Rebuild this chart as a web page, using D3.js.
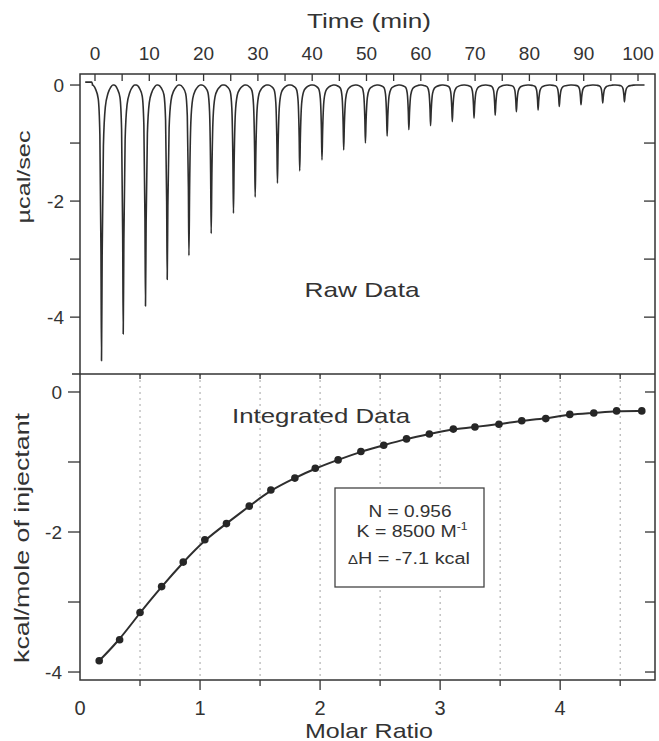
<!DOCTYPE html>
<html>
<head>
<meta charset="utf-8">
<script src="https://cdn.jsdelivr.net/npm/d3@7"></script>
<style>
  body { margin: 0; background: #fff; }
  svg { display: block; }
  text { font-family: "Liberation Sans", Arial, sans-serif; fill: #333; }
</style>
</head>
<body>
<svg id="chart"></svg>
<script>
// DATA
const injectionTimes = [1.2, 5.2, 9.3, 13.3, 17.3, 21.4, 25.5, 29.5, 33.6, 37.7, 41.8, 45.8, 49.8,
  53.8, 57.8, 61.8, 65.8, 69.8, 73.7, 77.6, 81.6, 85.5, 89.5, 93.5, 97.5]
const peakHeights = [-4.75, -4.29, -3.81, -3.35, -2.94, -2.56, -2.21, -1.93, -1.69, -1.48, -1.29, -1.12, -1.0,
  -0.88, -0.77, -0.70, -0.63, -0.57, -0.52, -0.46, -0.43, -0.37, -0.34, -0.31, -0.29]
// shape of one injection peak: [minutes from peak, fraction of peak height]
const peakProfile = [[-1.7, 0], [-1.1, 0.015], [-0.6, 0.05], [-0.3, 0.18], [-0.1, 0.6], [0, 1],
  [0.12, 0.62], [0.35, 0.22], [0.7, 0.08], [1.2, 0.03], [1.7, 0.008], [2.1, 0]]
const leadIn = [[-1.8, 0.05], [-0.6, 0.05], [-0.4, 0]]
const traceEnd = [[100.2, 0], [101.2, 0]]

const molarRatio = [0.16, 0.33, 0.50, 0.68, 0.86, 1.04, 1.22, 1.41, 1.59, 1.79, 1.96, 2.15, 2.34,
  2.53, 2.72, 2.91, 3.11, 3.29, 3.49, 3.68, 3.88, 4.08, 4.28, 4.47, 4.68]
const heatPerMole = [-3.84, -3.54, -3.15, -2.78, -2.43, -2.11, -1.88, -1.63, -1.40, -1.23, -1.09, -0.97, -0.85,
  -0.76, -0.67, -0.60, -0.53, -0.50, -0.46, -0.41, -0.38, -0.32, -0.30, -0.27, -0.27]

const timeTickLabels = [0, 10, 20, 30, 40, 50, 60, 70, 80, 90, 100]
const timeMinorTicks = [0, 5, 10, 15, 20, 25, 30, 35, 40, 45, 50, 55, 60, 65, 70, 75, 80, 85, 90, 95, 100]
const rawTicks = [0, -1, -2, -3, -4]
const rawTickLabels = [0, -2, -4]
const ratioTickLabels = [0, 1, 2, 3, 4]
const ratioMinorTicks = [0.5, 1, 1.5, 2, 2.5, 3, 3.5, 4, 4.5]
const heatTicks = [0, -1, -2, -3, -4]
const heatTickLabels = [0, -2, -4]
const fitResults = ["N = 0.956", "K = 8500 M", "H = -7.1 kcal"]

// LAYOUT
const WIDTH = 659
const HEIGHT = 741
const PLOT_LEFT = 80
const PLOT_RIGHT = 655
const TOP_Y = 74
const MID_Y = 374
const BOTTOM_Y = 680
const INK = "#333"

const svg = d3.select("#chart").attr("width", WIDTH).attr("height", HEIGHT)

const xTime = d3.scaleLinear().domain([-2.76, 103.13]).range([PLOT_LEFT, PLOT_RIGHT])
const yRaw = d3.scaleLinear().domain([-4.98, 0.19]).range([MID_Y, TOP_Y])
const xRatio = d3.scaleLinear().domain([0, 4.79]).range([PLOT_LEFT, PLOT_RIGHT])
const yHeat = d3.scaleLinear().domain([-4.114, 0.257]).range([BOTTOM_Y, MID_Y])

// gridlines in the lower panel
svg.append("g")
  .selectAll("line")
  .data(ratioMinorTicks)
  .join("line")
  .attr("x1", d => xRatio(d)).attr("x2", d => xRatio(d))
  .attr("y1", MID_Y).attr("y2", BOTTOM_Y)
  .attr("stroke", "#999")
  .attr("stroke-width", 0.9)
  .attr("stroke-dasharray", "2,4")

// raw data trace
const tracePoints = leadIn.slice()
injectionTimes.forEach((t, i) => {
  peakProfile.forEach(([dt, f]) => tracePoints.push([t + dt, peakHeights[i] * f]))
})
traceEnd.forEach(p => tracePoints.push(p))

svg.append("path")
  .datum(tracePoints)
  .attr("fill", "none")
  .attr("stroke", "#2e2e2e")
  .attr("stroke-width", 1.6)
  .attr("stroke-linejoin", "round")
  .attr("d", d3.line().x(d => xTime(d[0])).y(d => yRaw(d[1])).curve(d3.curveMonotoneX))

// integrated data + fit
const heatData = molarRatio.map((m, i) => [m, heatPerMole[i]])

svg.append("path")
  .datum(heatData)
  .attr("fill", "none")
  .attr("stroke", "#2e2e2e")
  .attr("stroke-width", 2)
  .attr("d", d3.line().x(d => xRatio(d[0])).y(d => yHeat(d[1])).curve(d3.curveBasis))

svg.append("g")
  .selectAll("circle")
  .data(heatData)
  .join("circle")
  .attr("cx", d => xRatio(d[0]))
  .attr("cy", d => yHeat(d[1]))
  .attr("r", 3.8)
  .attr("fill", "#262626")

// frames
svg.append("rect")
  .attr("x", PLOT_LEFT).attr("y", TOP_Y)
  .attr("width", PLOT_RIGHT - PLOT_LEFT).attr("height", BOTTOM_Y - TOP_Y)
  .attr("fill", "none").attr("stroke", INK).attr("stroke-width", 1.5)
svg.append("line")
  .attr("x1", PLOT_LEFT - 8).attr("x2", PLOT_RIGHT)
  .attr("y1", MID_Y).attr("y2", MID_Y)
  .attr("stroke", INK).attr("stroke-width", 1.5)

// ticks helper
function ticks(values, x1, y1, x2, y2) {
  svg.append("g")
    .selectAll("line")
    .data(values)
    .join("line")
    .attr("x1", x1).attr("y1", y1).attr("x2", x2).attr("y2", y2)
    .attr("stroke", INK).attr("stroke-width", 1.3)
}

// top panel ticks
ticks(timeMinorTicks, d => xTime(d), TOP_Y, d => xTime(d), TOP_Y + 7)
ticks(rawTicks, PLOT_LEFT - 10, d => yRaw(d), PLOT_LEFT, d => yRaw(d))
ticks(rawTicks.slice(1), PLOT_RIGHT - 11, d => yRaw(d), PLOT_RIGHT, d => yRaw(d))

// bottom panel ticks
ticks(ratioMinorTicks, d => xRatio(d), MID_Y, d => xRatio(d), MID_Y + 5)
ticks(ratioMinorTicks, d => xRatio(d), BOTTOM_Y, d => xRatio(d), d => BOTTOM_Y + (Number.isInteger(d) ? 10 : 6))
ticks(heatTicks, PLOT_LEFT - 12, d => yHeat(d), PLOT_LEFT, d => yHeat(d))
ticks(heatTicks, PLOT_RIGHT - 10, d => yHeat(d), PLOT_RIGHT, d => yHeat(d))

// tick labels
svg.append("g")
  .selectAll("text")
  .data(timeTickLabels)
  .join("text")
  .attr("x", d => xTime(d)).attr("y", 60)
  .attr("text-anchor", "middle")
  .attr("font-size", 19)
  .text(d => d)

svg.append("g")
  .selectAll("text")
  .data(rawTickLabels)
  .join("text")
  .attr("x", 64).attr("y", d => yRaw(d) + 7)
  .attr("text-anchor", "end")
  .attr("font-size", 19)
  .text(d => d)

svg.append("g")
  .selectAll("text")
  .data(heatTickLabels)
  .join("text")
  .attr("x", 62).attr("y", d => yHeat(d) + 7)
  .attr("text-anchor", "end")
  .attr("font-size", 19)
  .text(d => d)

svg.append("g")
  .selectAll("text")
  .data(ratioTickLabels)
  .join("text")
  .attr("x", d => xRatio(d)).attr("y", 715)
  .attr("text-anchor", "middle")
  .attr("font-size", 20)
  .text(d => d)

// titles
function label(str, x, y, size, length, rotate) {
  const t = svg.append("text")
    .attr("x", x).attr("y", y)
    .attr("text-anchor", "middle")
    .attr("font-size", size)
    .attr("textLength", length)
    .attr("lengthAdjust", "spacingAndGlyphs")
    .text(str)
  if (rotate) t.attr("transform", `rotate(-90 ${x} ${y})`)
  return t
}

label("Time (min)", 369, 28, 21, 124)
label("Molar Ratio", 369, 738, 21, 128)
label("µcal/sec", 30, 177, 19, 93, true)
label("kcal/mole of injectant", 29, 538, 21, 250, true)
label("Raw Data", 362, 297, 21, 115)
label("Integrated Data", 321, 423, 21, 178)

// fit results box
svg.append("rect")
  .attr("x", 335).attr("y", 488)
  .attr("width", 149).attr("height", 99)
  .attr("fill", "#fff")
  .attr("stroke", "#444").attr("stroke-width", 1.3)

label(fitResults[0], 410, 517, 16, 83)
const kLine = label(fitResults[1], 412, 537, 16, 111)
kLine.append("tspan").attr("dy", -7).attr("font-size", 10).text("-1")
const hLine = label("", 409, 564, 16, 122)
hLine.append("tspan").attr("font-size", 12).text("Δ")
hLine.append("tspan").text(fitResults[2])
</script>
</body>
</html>
